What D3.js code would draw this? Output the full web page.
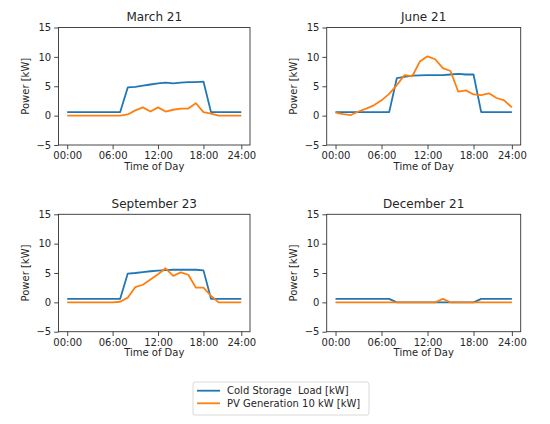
<!DOCTYPE html>
<html>
<head>
    <meta charset="utf-8">
    <title>Cold storage load vs PV generation</title>
<script src="https://unpkg.com/d3@7/dist/d3.min.js"></script>
</head>

<style>
body {
  margin: 0;
  background: #fff;
}

text {
  font-family: "DejaVu Sans", sans-serif;
  fill: #262626;
}

.tick-label, .axis-label, .legend-label {
  font-size: 10px;
}

.title {
  font-size: 12px;
}

.legend-label {
  white-space: pre;
}
</style>

<body>
<div id="chart1"></div>

<script type="text/javascript">

// hours of the day (24 samples), ticks sit on 0,6,12,18 and the last sample
const hours = [0,1,2,3,4,5,6,7,8,9,10,11,12,13,14,15,16,17,18,19,20,21,22,23];
const xTicks = [0, 6, 12, 18, 23];
const xTickLabels = ["00:00", "06:00", "12:00", "18:00", "24:00"];
const yTicks = [-5, 0, 5, 10, 15];

const marchLoad = [0.6,0.6,0.6,0.6,0.6,0.6,0.6,0.6,4.8,4.9,5.1,5.3,5.5,5.6,5.5,5.6,5.7,5.7,5.8,0.6,0.6,0.6,0.6,0.6];
const marchPV   = [0,0,0,0,0,0,0,0,0.2,0.9,1.4,0.7,1.4,0.7,1.0,1.2,1.2,2.1,0.6,0.35,0,0,0,0];

const juneLoad = [0.6,0.6,0.6,0.6,0.6,0.6,0.6,0.6,6.4,6.6,6.8,6.85,6.9,6.9,6.9,7.0,7.1,7.0,7.0,0.6,0.6,0.6,0.6,0.6];
const junePV   = [0.5,0.25,0.1,0.7,1.2,1.75,2.6,3.7,5.2,6.9,6.7,9.2,10.1,9.6,8.1,7.6,4.1,4.3,3.6,3.5,3.8,3.0,2.6,1.4];

const septLoad = [0.6,0.6,0.6,0.6,0.6,0.6,0.6,0.6,4.9,5.0,5.15,5.3,5.4,5.5,5.55,5.55,5.55,5.55,5.45,0.6,0.6,0.6,0.6,0.6];
const septPV   = [0,0,0,0,0,0,0,0.1,0.8,2.6,3.0,3.9,4.8,5.8,4.5,5.1,4.7,2.5,2.5,1.1,0,0,0,0];

const decLoad = [0.6,0.6,0.6,0.6,0.6,0.6,0.6,0.6,0,0,0,0,0,0,0,0,0,0,0,0.6,0.6,0.6,0.6,0.6];
const decPV   = [0,0,0,0,0,0,0,0,0,0,0,0,0,0,0.6,0,0,0,0,0,0,0,0,0];

const seriesNames = ["Cold Storage  Load [kW]", "PV Generation 10 kW [kW]"];
const colours = ["#1f77b4", "#ff7f0e"];

// one panel per day, frame boxes in page pixels
const panels = [
    {title: "March 21",     load: marchLoad, pv: marchPV, box: {l: 58.5,  r: 250,   t: 27.5,  b: 145}},
    {title: "June 21",      load: juneLoad,  pv: junePV,  box: {l: 326.7, r: 520.7, t: 27.5,  b: 145}},
    {title: "September 23", load: septLoad,  pv: septPV,  box: {l: 58.5,  r: 250,   t: 214.3, b: 331.7}},
    {title: "December 21",  load: decLoad,   pv: decPV,   box: {l: 326.7, r: 520.7, t: 214.3, b: 331.7}}
];

const svg = d3.select("#chart1").append("svg")
    .attr("width", 550)
    .attr("height", 424);

function drawPanel(p) {
    const b = p.box;
    // matplotlib style 5% margin on x
    const pad = (hours[hours.length - 1] - hours[0]) * 0.05;
    const x = d3.scaleLinear()
        .domain([hours[0] - pad, hours[hours.length - 1] + pad])
        .range([b.l, b.r]);
    const y = d3.scaleLinear()
        .domain([-5, 15])
        .range([b.b, b.t]);

    const g = svg.append("g").attr("class", "panel");

    const xAxis = d3.axisBottom(x)
        .tickValues(xTicks)
        .tickFormat((d, i) => xTickLabels[i])
        .tickSize(4.3)
        .tickPadding(2.5);
    const yAxis = d3.axisLeft(y)
        .tickValues(yTicks)
        .tickFormat(d => d < 0 ? "\u2212" + Math.abs(d) : d)
        .tickSize(4.3)
        .tickPadding(3);

    const gx = g.append("g")
        .attr("transform", `translate(0,${b.b})`)
        .call(xAxis);
    const gy = g.append("g")
        .attr("transform", `translate(${b.l},0)`)
        .call(yAxis);

    [gx, gy].forEach(ax => {
        ax.select(".domain").remove();
        ax.selectAll(".tick line").attr("stroke", "#333").attr("stroke-width", 0.9);
        ax.selectAll(".tick text")
            .attr("class", "tick-label")
            .attr("font-family", null)
            .attr("font-size", null)
            .attr("fill", null);
    });

    // lines
    const line = d3.line()
        .x((d, i) => x(hours[i]))
        .y(d => y(d));

    [p.load, p.pv].forEach((vals, k) => {
        g.append("path")
            .datum(vals)
            .attr("fill", "none")
            .attr("stroke", colours[k])
            .attr("stroke-width", 1.8)
            .attr("stroke-linejoin", "round")
            .attr("d", line);
    });

    // frame
    g.append("rect")
        .attr("x", b.l)
        .attr("y", b.t)
        .attr("width", b.r - b.l)
        .attr("height", b.b - b.t)
        .attr("fill", "none")
        .attr("stroke", "#333")
        .attr("stroke-width", 0.9);

    g.append("text")
        .attr("class", "title")
        .attr("x", (b.l + b.r) / 2)
        .attr("y", b.t - 6.5)
        .attr("text-anchor", "middle")
        .text(p.title);

    g.append("text")
        .attr("class", "axis-label")
        .attr("x", (b.l + b.r) / 2)
        .attr("y", b.b + 24.5)
        .attr("text-anchor", "middle")
        .text("Time of Day");

    g.append("text")
        .attr("class", "axis-label")
        .attr("transform", `translate(${b.l - 30},${(b.t + b.b) / 2}) rotate(-90)`)
        .attr("text-anchor", "middle")
        .text("Power [kW]");
}

panels.forEach(drawPanel);

// legend below the grid
const legend = svg.append("g").attr("transform", "translate(193,382)");
legend.append("rect")
    .attr("width", 176)
    .attr("height", 33)
    .attr("rx", 2)
    .attr("fill", "#fff")
    .attr("stroke", "#d5d5d5")
    .attr("stroke-width", 0.9);

const items = legend.selectAll("g.item")
    .data(seriesNames)
    .join("g")
    .attr("class", "item")
    .attr("transform", (d, i) => `translate(0,${8.7 + i * 12.6})`);

items.append("line")
    .attr("x1", 4)
    .attr("x2", 27)
    .attr("stroke", (d, i) => colours[i])
    .attr("stroke-width", 1.8);

items.append("text")
    .attr("class", "legend-label")
    .attr("x", 34)
    .attr("dy", "0.35em")
    .attr("xml:space", "preserve")
    .text(d => d);

</script>

</body>

</html>
